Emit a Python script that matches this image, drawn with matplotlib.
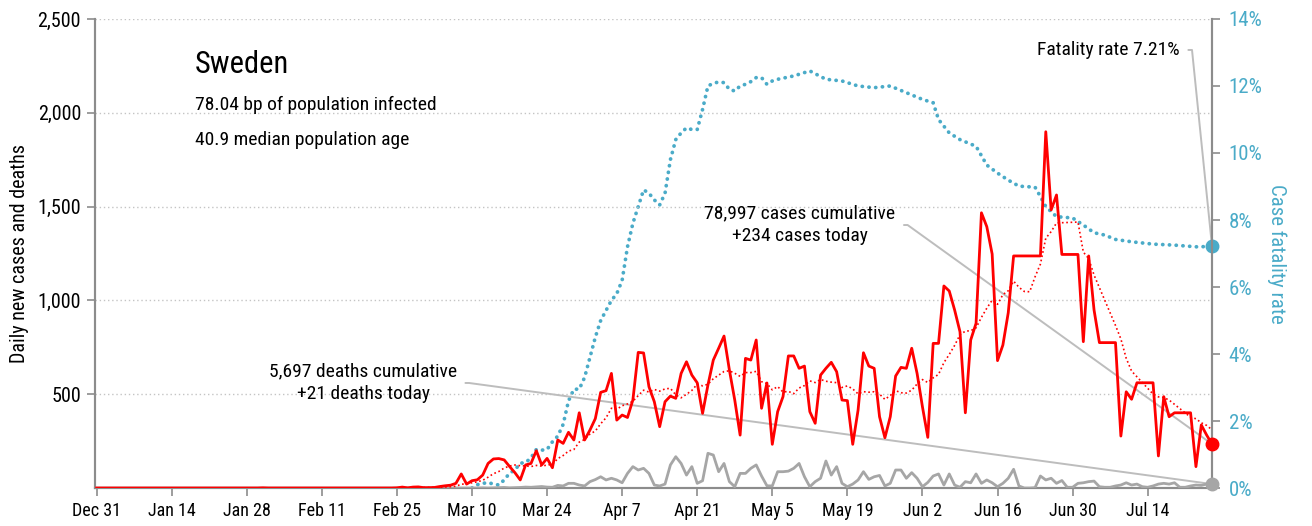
import matplotlib
matplotlib.use("Agg")
import matplotlib.pyplot as plt
from matplotlib import font_manager
import pandas as pd

# days counted from Dec 31 2019 (day 0) to Jul 26 2020 (day 208)
cases = [0] * 31 + [1] + [0] * 24 + [
    1, 5, 1, 5, 6, 2, 2,
    3, 8, 12, 15, 25, 75, 21, 39, 44, 69, 131, 155, 157, 150, 115, 82, 43, 123,
    131, 199, 123, 158, 108, 256, 238, 297, 256, 401, 256, 309, 370, 510,
    519, 611, 362, 389, 376, 469, 723, 720, 540, 460, 327, 460, 490, 478, 611,
    673, 602, 561, 398, 549, 682, 745, 810, 629, 469, 282, 691, 682, 789, 425, 560,
    233, 407, 487, 704, 704, 638, 650, 407, 345, 602, 638, 670, 620, 469, 466,
    233, 416, 721, 650, 638, 380, 268, 380, 597, 643, 638, 745, 611, 433, 270,
    771, 771, 1077, 1050, 949, 833, 401, 789, 878, 1467, 1393, 1247, 679, 762, 934,
    1237, 1237, 1237, 1237, 1237, 1237, 1899, 1482, 1562, 1245, 1245, 1245, 1245,
    780, 1237, 949, 775, 775, 775, 775, 277, 513, 473, 561, 561, 561, 561,
    171, 487, 380, 401, 401, 401, 401, 114, 336, 282, 234,
]
deaths = [0] * 72 + [
    1, 0, 1, 2, 3, 1, 2, 3, 5, 4, 6, 8, 5, 4, 14, 11, 25, 25, 16, 11, 34, 45,
    60, 43, 52, 43, 28, 78, 114, 96, 105, 78, 16, 11, 21, 123, 167, 131, 69, 114,
    25, 39, 185, 176, 87, 131, 34, 7, 78, 78, 105, 123, 64, 12,
    11, 87, 87, 90, 105, 131, 60, 7, 34, 52, 144, 69, 114, 25, 7, 21, 43, 87, 46,
    60, 67, 11, 25, 96, 96, 52, 82, 52, 7, 30,
    64, 75, 16, 75, 16, 4, 34, 28, 75, 25, 43, 28, 7, 25, 52, 100, 11, 0, 0, 2,
    64, 43, 52, 25, 40, 4, 4, 25, 28, 34, 37, 7, 4, 4, 11, 16, 28, 16, 21, 7, 4,
    11, 21, 25, 21, 28, 4, 4, 11, 16, 14, 21, 21,
]
days = list(range(len(cases)))

# case fatality rate (%)
cfr_days = [70, 71, 72, 73, 74, 75, 76, 77, 78, 79, 80, 81, 82, 83, 84, 85, 86, 87, 88, 89,
            90, 91, 92, 93, 94, 95, 96, 97, 98, 99, 100, 101, 102, 103, 104, 105, 106, 107,
            108, 109, 110, 111, 112, 113, 114, 115, 116, 117, 118, 119, 120, 121, 122, 123,
            124, 125, 126, 127, 130, 133, 136, 139, 142, 145, 148, 151, 154, 156, 157, 159,
            161, 164, 166, 168, 170, 172, 175, 176, 177, 179, 182, 184, 186, 188, 190, 193,
            197, 201, 205, 208]
cfr = [0.0, 0.1, 0.14, 0.16, 0.12, 0.09, 0.24, 0.44, 0.54, 0.74, 0.76, 0.9, 1.15, 1.13,
       1.15, 1.38, 1.55, 1.9, 2.6, 2.95, 2.95, 3.3, 3.9, 4.5, 5.0, 5.3, 5.6, 5.8, 6.2, 7.2,
       7.9, 8.4, 8.9, 8.8, 8.6, 8.45, 8.8, 9.8, 10.4, 10.6, 10.75, 10.7, 10.7, 11.3, 12.0,
       12.08, 12.12, 12.1, 11.9, 11.85, 12.0, 12.05, 12.13, 12.25, 12.25, 12.05, 12.15, 12.2,
       12.3, 12.45, 12.2, 12.15, 12.0, 11.95, 12.0, 11.8, 11.6, 11.5, 11.0, 10.6,
       10.4, 10.2, 9.64, 9.4, 9.19, 9.01, 8.98, 8.7, 8.4, 8.1, 8.06, 7.85, 7.62, 7.55, 7.42,
       7.35, 7.28, 7.25, 7.2, 7.21]

tick_days = list(range(0, 197, 14))
tick_labels = ["Dec 31", "Jan 14", "Jan 28", "Feb 11", "Feb 25", "Mar 10", "Mar 24",
               "Apr 7", "Apr 21", "May 5", "May 19", "Jun 2", "Jun 16", "Jun 30", "Jul 14"]

avg7 = pd.Series(cases).rolling(7).mean()

# pick a narrow font if there is one
names = {f.name for f in font_manager.fontManager.ttflist}
font = "Liberation Sans"
for cand in ["Liberation Sans Narrow", "Roboto Condensed", "Open Sans Condensed", "DejaVu Sans Condensed"]:
    if cand in names:
        font = cand
        break
plt.rcParams['font.family'] = [font, 'DejaVu Sans']

RED = "#ff0000"
BLUE = "#4aabc8"
GREY = "#a6a6a6"
LINE = "#bdbdbd"

fig = plt.figure(figsize=(13.12, 5.26), dpi=100)
ax = fig.add_axes([0.0724, 0.0722, 0.8514, 0.8917])
ax2 = ax.twinx()

ax.plot(days, cases, color=RED, lw=2, zorder=4)
ax.plot(days, avg7, color=RED, lw=1.2, ls=(0, (1, 1.6)), zorder=4)
ax.plot(days, deaths, color=GREY, lw=2, zorder=3)
ax2.plot(cfr_days, cfr, color=BLUE, lw=2.7, ls=(0, (0.05, 1.75)), dash_capstyle='round')

ax.plot(days[-1], cases[-1], 'o', color=RED, ms=9, zorder=6, clip_on=False)
ax.plot(days[-1], deaths[-1], 'o', color=GREY, ms=9, zorder=6, clip_on=False)
ax2.plot(cfr_days[-1], cfr[-1], 'o', color=BLUE, ms=9, zorder=6, clip_on=False)

ax.set_xlim(-0.3, days[-1])
ax.set_ylim(0, 2500)
ax2.set_ylim(0, 14)
ax.set_zorder(ax2.get_zorder() + 1)
ax.patch.set_visible(False)

ax.set_yticks([500, 1000, 1500, 2000, 2500])
ax.set_yticklabels(["500", "1,000", "1,500", "2,000", "2,500"], fontsize=14.5)
ax.set_xticks(tick_days)
ax.set_xticklabels(tick_labels, fontsize=13)
ax2.set_yticks(range(0, 15, 2))
ax2.set_yticklabels([f"{v}%" for v in range(0, 15, 2)], fontsize=15, color=BLUE)

ax.grid(axis='y', color='#c4c4c4', ls=(0, (1, 2)), lw=1)
for a in (ax, ax2):
    a.spines['top'].set_visible(False)
    for s in ('left', 'right', 'bottom'):
        a.spines[s].set_color('#8c8c8c')
        a.spines[s].set_linewidth(1.5)
    a.tick_params(direction='out', length=6, width=1.2, color='#8c8c8c', pad=4)
ax2.tick_params(axis='y', pad=6)

ax.set_ylabel("Daily new cases and deaths", fontsize=14.5, labelpad=6)
ax2.set_ylabel("Case fatality rate", fontsize=15, color=BLUE, rotation=270, labelpad=17)

ax.text(0.0895, 0.902, "Sweden", transform=ax.transAxes, fontsize=22, va='center')
ax.text(0.0895, 0.817, "78.04 bp of population infected", transform=ax.transAxes, fontsize=14, va='center')
ax.text(0.0895, 0.742, "40.9 median population age", transform=ax.transAxes, fontsize=14, va='center')

arrow = dict(arrowstyle='-', color=LINE, lw=1.4, relpos=(1, 0.5), shrinkA=4, shrinkB=0,
             connectionstyle="arc,angleA=0,armA=12,angleB=0,armB=0,rad=0")
ax.annotate("5,697 deaths cumulative\n+21 deaths today", xy=(days[-1], deaths[-1]),
            xytext=(0.2767, 0.2719), textcoords='figure fraction', ha='center', va='center',
            fontsize=14, linespacing=1.35, arrowprops=arrow, zorder=2)
ax.annotate("78,997 cases cumulative\n+234 cases today", xy=(days[-1], cases[-1]),
            xytext=(0.6098, 0.5722), textcoords='figure fraction', ha='center', va='center',
            fontsize=14, linespacing=1.35, arrowprops=arrow, zorder=2)
ax2.annotate("Fatality rate 7.21%", xy=(cfr_days[-1], cfr[-1]),
             xytext=(0.8994, 0.905), textcoords='figure fraction', ha='right', va='center',
             fontsize=14, arrowprops=arrow)

fig.savefig("out.png", dpi=100)
